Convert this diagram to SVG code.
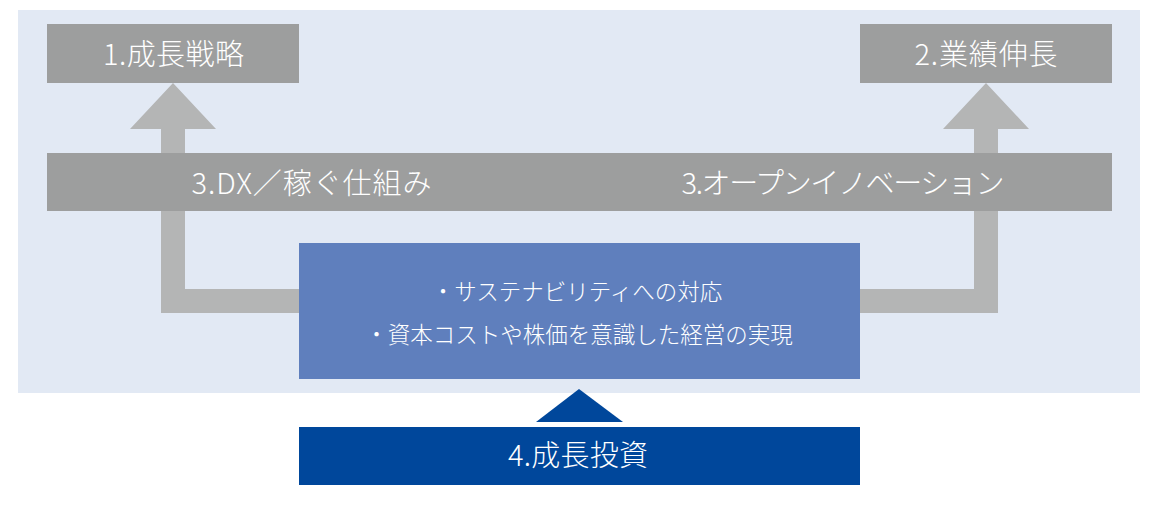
<svg xmlns="http://www.w3.org/2000/svg" width="1160" height="508" viewBox="0 0 1160 508">
<style>
.gray{fill:#9d9e9e}
.arrow{fill:#b4b5b5}
.lbl{font-family:"Noto Sans CJK JP","Noto Sans",sans-serif;fill:#ffffff;text-anchor:middle;font-weight:300}
.big{font-size:29px}
.mid{font-size:22.5px}
</style>
<rect width="1160" height="508" fill="#ffffff"/>
<g id="panel"><rect x="18" y="10" width="1122" height="383" fill="#e2e9f4"/></g>
<g id="connectors">
<path class="arrow" d="M299,289 H185 V129 H216 L173,83 L130,129 H161 V313 H299 Z"/>
<path class="arrow" d="M860,289 H974 V129 H943 L986,83 L1029,129 H998 V313 H860 Z"/>
<path fill="#00479b" d="M579,389 L623,422 H536 Z"/>
</g>
<g id="node-1">
<rect class="gray" x="47" y="24" width="252" height="59"/>
<text class="lbl big" x="173.5" y="65" textLength="141" lengthAdjust="spacing">1.成長戦略</text>
</g>
<g id="node-2">
<rect class="gray" x="860" y="24" width="252" height="59"/>
<text class="lbl big" x="986" y="65" textLength="143" lengthAdjust="spacing">2.業績伸長</text>
</g>
<g id="node-3">
<rect class="gray" x="47" y="153" width="1065" height="58"/>
<text class="lbl big" x="311.5" y="194" textLength="240" lengthAdjust="spacing">3.DX／稼ぐ仕組み</text>
<text class="lbl big" x="843" y="194" textLength="323" lengthAdjust="spacing">3.オープンイノベーション</text>
</g>
<g id="node-center">
<rect x="299" y="243" width="561" height="136" fill="#5f7fbd"/>
<text class="lbl mid" x="577" y="300">・サステナビリティへの対応</text>
<text class="lbl mid" x="579" y="343">・資本コストや株価を意識した経営の実現</text>
</g>
<g id="node-4">
<rect x="299" y="427" width="561" height="58" fill="#00479b"/>
<text class="lbl big" x="578" y="466" textLength="140" lengthAdjust="spacing">4.成長投資</text>
</g>
</svg>
